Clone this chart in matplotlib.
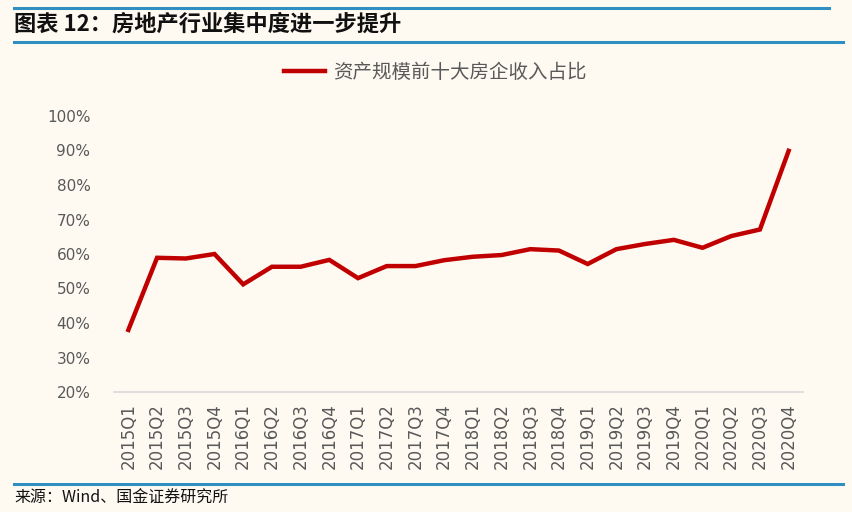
import numpy as np
import matplotlib.pyplot as plt
from matplotlib.lines import Line2D

plt.rcParams['font.family'] = ['Noto Sans CJK SC', 'DejaVu Sans']

quarters = ['2015Q1', '2015Q2', '2015Q3', '2015Q4',
            '2016Q1', '2016Q2', '2016Q3', '2016Q4',
            '2017Q1', '2017Q2', '2017Q3', '2017Q4',
            '2018Q1', '2018Q2', '2018Q3', '2018Q4',
            '2019Q1', '2019Q2', '2019Q3', '2019Q4',
            '2020Q1', '2020Q2', '2020Q3', '2020Q4']
share = [38.0, 58.9, 58.7, 60.0,
         51.2, 56.3, 56.3, 58.3,
         53.0, 56.5, 56.5, 58.2,
         59.2, 59.7, 61.4, 61.0,
         57.1, 61.4, 62.9, 64.1,
         61.8, 65.2, 67.1, 89.9]
yticks = [20, 30, 40, 50, 60, 70, 80, 90, 100]

bg = '#FEFAF2'
blue = '#2F8FC0'
grey = '#595959'

fig = plt.figure(figsize=(8.52, 5.12), dpi=100, facecolor=bg)
ax = fig.add_axes([114 / 852, 1 - 392 / 512, 689 / 852, 276 / 512])
ax.set_facecolor(bg)

x = np.arange(len(quarters))
ax.plot(x, share, color='#C00000', linewidth=3.2, solid_joinstyle='miter',
        label='资产规模前十大房企收入占比')

ax.set_xlim(-0.5, len(quarters) - 0.5)
ax.set_ylim(20, 100)
ax.set_yticks(yticks)
ax.set_yticklabels([f'{v}%' for v in yticks], family='DejaVu Sans', fontsize=11)
ax.set_xticks(x)
ax.set_xticklabels(quarters, rotation=90, family='DejaVu Sans', fontsize=12)
ax.tick_params(axis='both', length=0, colors=grey)
ax.tick_params(axis='y', pad=17)
ax.tick_params(axis='x', pad=8)
for side in ['top', 'right', 'left']:
    ax.spines[side].set_visible(False)
ax.spines['bottom'].set_color('#D9D9D9')
ax.spines['bottom'].set_linewidth(1.2)

fig.legend(handles=[Line2D([], [], color='#C00000', linewidth=3.2)],
           labels=['资产规模前十大房企收入占比'],
           loc='center', bbox_to_anchor=(435 / 852, 1 - 72 / 512),
           frameon=False, fontsize=14, labelcolor=grey,
           handlelength=2.1, handletextpad=0.4)

# header and footer rules
fig.add_artist(Line2D([14 / 852, 829 / 852], [1 - 8 / 512, 1 - 8 / 512],
                      color=blue, linewidth=2.2))
fig.add_artist(Line2D([14 / 852, 843 / 852], [1 - 42 / 512, 1 - 42 / 512],
                      color=blue, linewidth=2.2))
fig.add_artist(Line2D([14 / 852, 843 / 852], [1 - 484 / 512, 1 - 484 / 512],
                      color=blue, linewidth=2.2))

fig.text(14 / 852, 1 - 24 / 512, '图表 12：房地产行业集中度进一步提升',
         fontsize=16, fontweight='bold', style='italic', va='center', color='#111111')
fig.text(14 / 852, 1 - 498 / 512, '来源：Wind、国金证券研究所',
         fontsize=11.5, va='center', color='#111111')

fig.savefig('out.png', dpi=100, facecolor=bg)
